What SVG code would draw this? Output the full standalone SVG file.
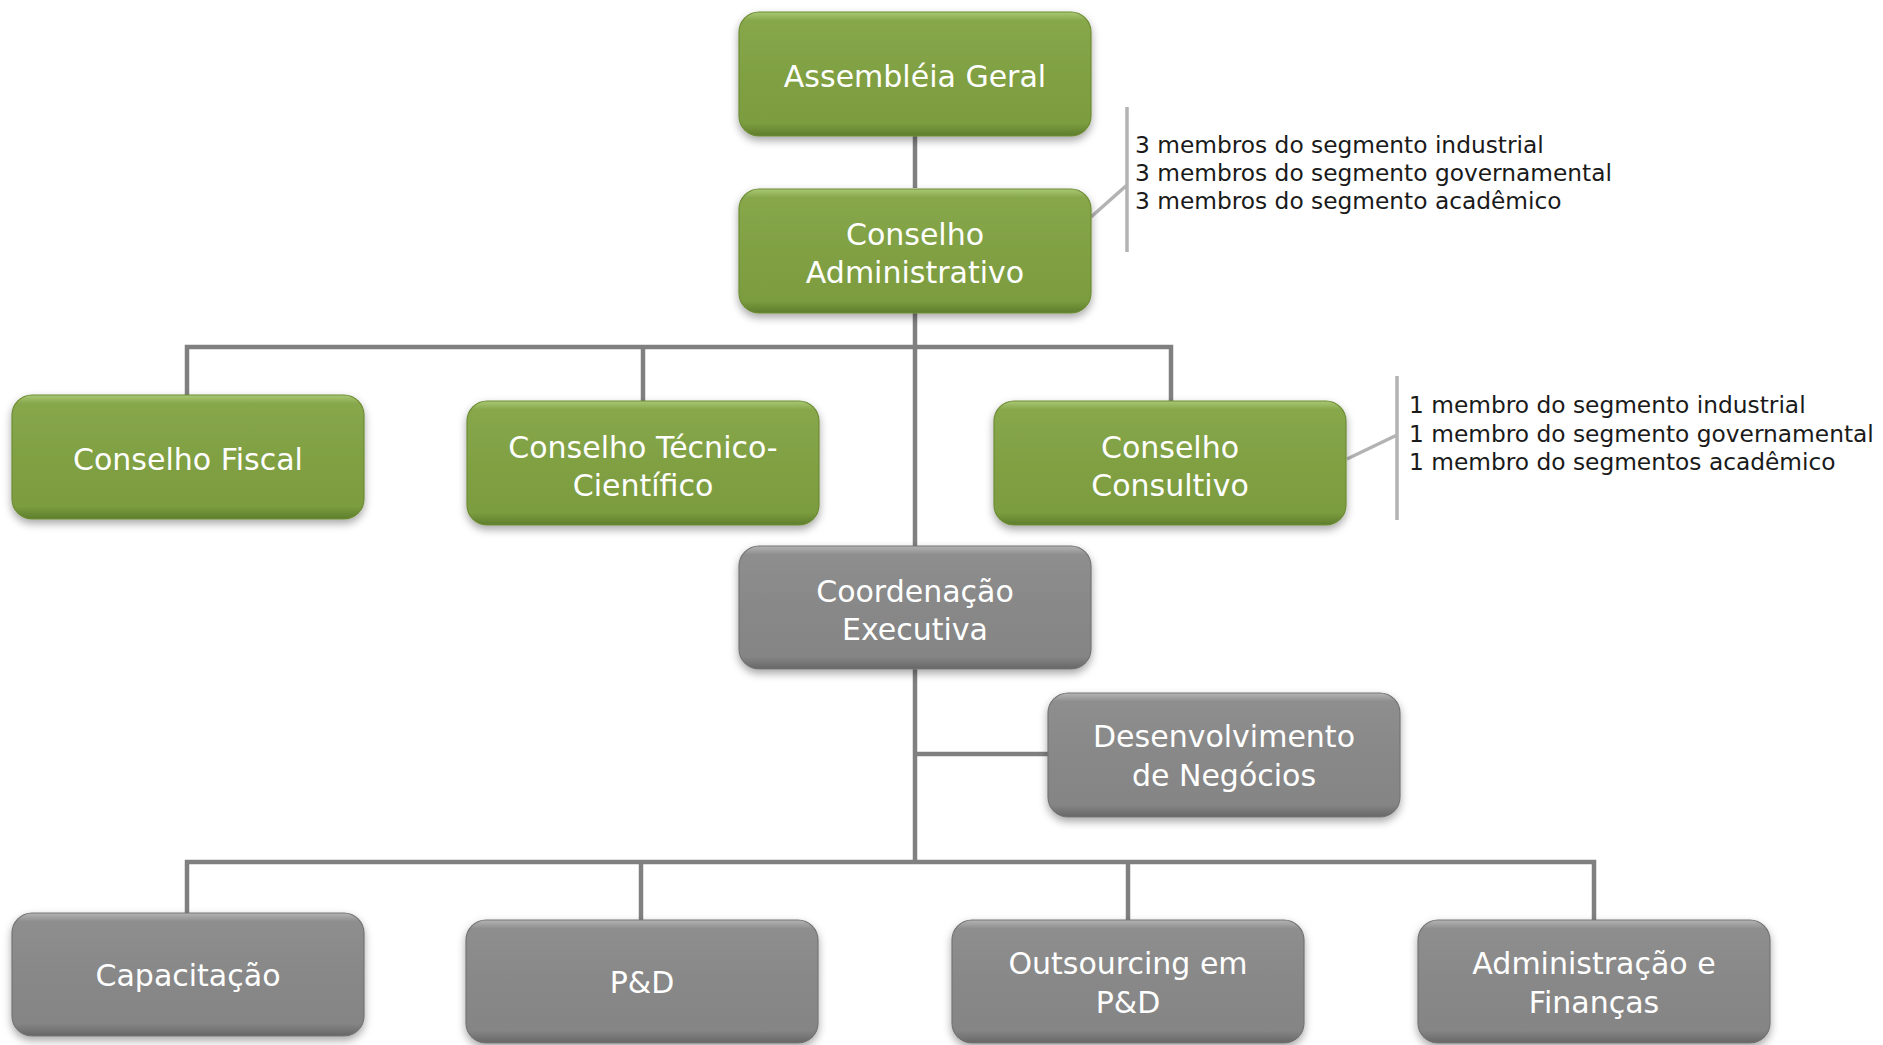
<svg xmlns="http://www.w3.org/2000/svg" width="1883" height="1045" viewBox="0 0 1883 1045">
<defs>
<linearGradient id="gG" x1="0" y1="0" x2="0" y2="1">
<stop offset="0" stop-color="#a9c874"/>
<stop offset="0.07" stop-color="#87a74b"/>
<stop offset="0.5" stop-color="#80a043"/>
<stop offset="0.9" stop-color="#7c9c40"/>
<stop offset="1" stop-color="#5e7d2c"/>
</linearGradient>
<linearGradient id="gY" x1="0" y1="0" x2="0" y2="1">
<stop offset="0" stop-color="#b4b4b4"/>
<stop offset="0.07" stop-color="#8e8e8e"/>
<stop offset="0.5" stop-color="#888888"/>
<stop offset="0.9" stop-color="#858585"/>
<stop offset="1" stop-color="#666666"/>
</linearGradient>
<filter id="sh" x="-10%" y="-10%" width="120%" height="130%">
<feDropShadow dx="0" dy="4" stdDeviation="4" flood-color="#000" flood-opacity="0.35"/>
</filter>
</defs>
<style>
.g{fill:url(#gG);stroke:#6d8c35;stroke-width:1.2;filter:url(#sh)}
.y{fill:url(#gY);stroke:#747474;stroke-width:1.2;filter:url(#sh)}
.t{font-family:"DejaVu Sans",sans-serif;font-size:30px;fill:#ffffff;text-anchor:middle}
.a{font-family:"DejaVu Sans",sans-serif;font-size:23.3px;fill:#1a1a1a}
.c{stroke:#808080;stroke-width:4.5;fill:none}
.b{stroke:#b3b3b3;stroke-width:3.5;fill:none}
</style>
<rect width="1883" height="1045" fill="#ffffff"/>
<g id="connectors">
<path class="c" d="M915 136V188"/>
<path class="c" d="M915 313V546"/>
<path class="c" d="M187 395V347H1171V401"/>
<path class="c" d="M643 347V401"/>
<path class="c" d="M915 669V862"/>
<path class="c" d="M915 754H1048"/>
<path class="c" d="M187 913V862H1594V920"/>
<path class="c" d="M641 862V920"/>
<path class="c" d="M1128 862V920"/>
<path class="b" d="M1127 107V252M1091 217L1127 185"/>
<path class="b" d="M1397 376V520M1347 459L1397 435"/>
</g>
<g id="assembleia"><rect class="g" x="739" y="12" width="352" height="124" rx="20"/><text class="t" x="915" y="87">Assembléia Geral</text></g>
<g id="conselho-adm"><rect class="g" x="739" y="189" width="352" height="124" rx="20"/><text class="t" x="915" y="245">Conselho</text><text class="t" x="915" y="283">Administrativo</text></g>
<g id="nota-adm"><text class="a" x="1135" y="153">3 membros do segmento industrial</text><text class="a" x="1135" y="181">3 membros do segmento governamental</text><text class="a" x="1135" y="209">3 membros do segmento acadêmico</text></g>
<g id="conselho-fiscal"><rect class="g" x="12" y="395" width="352" height="124" rx="20"/><text class="t" x="188" y="470">Conselho Fiscal</text></g>
<g id="conselho-tc"><rect class="g" x="467" y="401" width="352" height="124" rx="20"/><text class="t" x="643" y="458">Conselho Técnico-</text><text class="t" x="643" y="496">Científico</text></g>
<g id="conselho-consultivo"><rect class="g" x="994" y="401" width="352" height="124" rx="20"/><text class="t" x="1170" y="458">Conselho</text><text class="t" x="1170" y="496">Consultivo</text></g>
<g id="nota-consultivo"><text class="a" x="1409" y="413">1 membro do segmento industrial</text><text class="a" x="1409" y="442">1 membro do segmento governamental</text><text class="a" x="1409" y="470">1 membro do segmentos acadêmico</text></g>
<g id="coordenacao"><rect class="y" x="739" y="546" width="352" height="123" rx="20"/><text class="t" x="915" y="602">Coordenação</text><text class="t" x="915" y="640">Executiva</text></g>
<g id="desenvolvimento"><rect class="y" x="1048" y="693" width="352" height="124" rx="20"/><text class="t" x="1224" y="747">Desenvolvimento</text><text class="t" x="1224" y="786">de Negócios</text></g>
<g id="capacitacao"><rect class="y" x="12" y="913" width="352" height="123" rx="20"/><text class="t" x="188" y="986">Capacitação</text></g>
<g id="pd"><rect class="y" x="466" y="920" width="352" height="123" rx="20"/><text class="t" x="642" y="993">P&amp;D</text></g>
<g id="outsourcing"><rect class="y" x="952" y="920" width="352" height="123" rx="20"/><text class="t" x="1128" y="974">Outsourcing em</text><text class="t" x="1128" y="1013">P&amp;D</text></g>
<g id="administracao"><rect class="y" x="1418" y="920" width="352" height="123" rx="20"/><text class="t" x="1594" y="974">Administração e</text><text class="t" x="1594" y="1013">Finanças</text></g>
</svg>
